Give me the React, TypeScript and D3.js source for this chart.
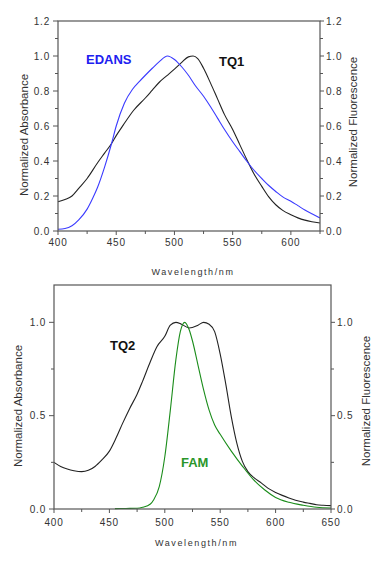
import React from "react";
import * as d3 from "d3";

// Top panel data
const tq1Wl = [400, 406, 412, 418, 425, 434, 440, 446, 450, 456, 465, 475, 481, 487, 493, 500, 506, 512, 516, 520, 525, 531, 537, 543, 550, 556, 562, 568, 575, 581, 587, 593, 600, 606, 612, 618, 625];
const tq1Val = [0.167, 0.18, 0.2, 0.245, 0.3, 0.39, 0.445, 0.5, 0.545, 0.605, 0.69, 0.76, 0.805, 0.85, 0.885, 0.925, 0.962, 0.995, 1.0, 0.985, 0.93, 0.845, 0.755, 0.665, 0.58, 0.495, 0.41, 0.33, 0.255, 0.195, 0.15, 0.118, 0.093, 0.075, 0.062, 0.053, 0.046];
const edansWl = [400, 406, 412, 418, 425, 430, 434, 440, 446, 450, 457, 464, 470, 475, 481, 487, 494, 500, 506, 512, 518, 525, 531, 537, 543, 550, 556, 562, 568, 575, 581, 587, 593, 600, 606, 612, 618, 625];
const edansVal = [0.01, 0.014, 0.03, 0.065, 0.125, 0.19, 0.25, 0.365, 0.5, 0.6, 0.73, 0.81, 0.855, 0.89, 0.93, 0.968, 1.0, 0.98, 0.94, 0.89, 0.83, 0.77, 0.71, 0.645, 0.58, 0.51, 0.455, 0.4, 0.35, 0.3, 0.26, 0.226, 0.195, 0.17, 0.145, 0.12, 0.098, 0.074];

// Bottom panel data
const tq2Wl = [400, 406, 412, 418, 425, 431, 437, 443, 450, 456, 462, 468, 475, 480, 487, 493, 500, 505, 510, 515, 522, 530, 535, 540, 545, 550, 555, 560, 565, 570, 575, 581, 587, 593, 600, 606, 612, 618, 625, 631, 637, 643, 650];
const tq2Val = [0.25, 0.228, 0.214, 0.205, 0.2, 0.207, 0.228, 0.262, 0.31, 0.38, 0.46, 0.535, 0.615, 0.685, 0.79, 0.87, 0.925, 0.985, 1.0, 0.99, 0.97, 0.985, 1.0, 0.99, 0.95, 0.83, 0.67, 0.495, 0.353, 0.255, 0.2, 0.165, 0.14, 0.112, 0.089, 0.073, 0.059, 0.047, 0.037, 0.03, 0.023, 0.02, 0.018];
const famWl = [455, 465, 475, 480, 487, 490, 495, 500, 505, 510, 514, 518, 522, 525, 530, 535, 540, 545, 550, 560, 570, 580, 590, 600, 612, 625, 637, 650];
const famVal = [0.002, 0.003, 0.004, 0.009, 0.027, 0.05, 0.12, 0.28, 0.53, 0.8, 0.95, 1.0, 0.96, 0.9, 0.77, 0.64, 0.53, 0.45, 0.4, 0.31, 0.23, 0.157, 0.103, 0.062, 0.036, 0.02, 0.009, 0.005];

const topXTicks = [400, 425, 450, 475, 500, 525, 550, 575, 600, 625];
const topXLabels = [400, 450, 500, 550, 600];
const topYTicks = [0, 0.1, 0.2, 0.3, 0.4, 0.5, 0.6, 0.7, 0.8, 0.9, 1.0, 1.1, 1.2];
const topYLabels = ["0.0", "0.2", "0.4", "0.6", "0.8", "1.0", "1.2"];
const botXTicks = [400, 425, 450, 475, 500, 525, 550, 575, 600, 625, 650];
const botXLabels = [400, 450, 500, 550, 600, 650];
const botYTicks = [0, 0.25, 0.5, 0.75, 1.0];
const botYLabels = ["0.0", "0.5", "1.0"];

const AXIS = "#555";
const TXT = "#333";
const FONT = "'Liberation Sans', Arial, sans-serif";

type Series = { wl: number[]; val: number[]; color: string };
type Lab = { text: string; x: number; y: number; color: string };

function Panel(props: {
  left: number; right: number; top: number; bottom: number;
  xDomain: [number, number];
  xTicks: number[]; xLabels: number[];
  yTicks: number[]; yLabels: string[];
  series: Series[]; labels: Lab[];
  leftTitleX: number; leftTitleY: number; rightTitleX: number; rightTitleY: number;
  xTitleY: number; labelGap: number;
}) {
  const x = d3.scaleLinear().domain(props.xDomain).range([props.left, props.right]);
  const y = d3.scaleLinear().domain([0, 1.2]).range([props.bottom, props.top]);
  const line = d3.line<[number, number]>().x(d => x(d[0])).y(d => y(d[1])).curve(d3.curveMonotoneX);
  const labVals = props.yLabels.map(s => parseFloat(s));
  const isMajorY = (v: number) => labVals.some(l => Math.abs(l - v) < 1e-6);
  const isMajorX = (v: number) => props.xLabels.includes(v);
  return (
    <g>
      {props.series.map((s, i) => (
        <path key={i} d={line(s.wl.map((w, j) => [w, s.val[j]] as [number, number])) || ""}
          fill="none" stroke={s.color} strokeWidth={1.1} />
      ))}
      <rect x={props.left} y={props.top} width={props.right - props.left} height={props.bottom - props.top}
        fill="none" stroke={AXIS} strokeWidth={1.2} />
      {props.xTicks.map(t => (
        <line key={"xt" + t} x1={x(t)} x2={x(t)} y1={props.bottom} y2={props.bottom + (isMajorX(t) ? 4 : 3)} stroke={AXIS} />
      ))}
      {props.xLabels.map(t => (
        <text key={"xl" + t} x={x(t)} y={props.bottom + props.labelGap} textAnchor="middle" fontSize={10}
          fontFamily={FONT} fill={TXT} letterSpacing={0.8}>{t}</text>
      ))}
      {props.yTicks.map(t => (
        <g key={"yt" + t}>
          <line x1={props.left - (isMajorY(t) ? 5 : 3)} x2={props.left} y1={y(t)} y2={y(t)} stroke={AXIS} />
          <line x1={props.right} x2={props.right + (isMajorY(t) ? 4 : 3)} y1={y(t)} y2={y(t)} stroke={AXIS} />
        </g>
      ))}
      {props.yLabels.map(s => (
        <g key={"yl" + s}>
          <text x={props.left - 8} y={y(parseFloat(s)) + 3.5} textAnchor="end" fontSize={10}
            fontFamily={FONT} fill={TXT} letterSpacing={0.8}>{s}</text>
          <text x={props.right + 6} y={y(parseFloat(s)) + 3.5} textAnchor="start" fontSize={10}
            fontFamily={FONT} fill={TXT} letterSpacing={0.8}>{s}</text>
        </g>
      ))}
      <text transform={`translate(${props.leftTitleX},${props.leftTitleY}) rotate(-90)`} textAnchor="middle"
        fontSize={11.5} fontFamily={FONT} fill={TXT}>Normalized Absorbance</text>
      <text transform={`translate(${props.rightTitleX},${props.rightTitleY}) rotate(-90)`} textAnchor="middle"
        fontSize={11.5} fontFamily={FONT} fill={TXT}>Normalized Fluorescence</text>
      <text x={(props.left + props.right) / 2 + 4} y={props.xTitleY} textAnchor="middle" fontSize={9}
        fontFamily={FONT} fill={TXT} letterSpacing={1.6}>Wavelength/nm</text>
      {props.labels.map(l => (
        <text key={l.text} x={l.x} y={l.y} fontSize={13} fontWeight="bold" fontFamily={FONT} fill={l.color}>{l.text}</text>
      ))}
    </g>
  );
}

export default function App() {
  return (
    <svg width={391} height={565} style={{ position: "absolute", left: 0, top: 0, background: "#fff" }}>
      <rect width={391} height={565} fill="#fff" />
      <Panel left={58} right={320} top={21} bottom={231} xDomain={[400, 625]}
        xTicks={topXTicks} xLabels={topXLabels} yTicks={topYTicks} yLabels={topYLabels}
        series={[{ wl: tq1Wl, val: tq1Val, color: "#222" }, { wl: edansWl, val: edansVal, color: "#3a3aff" }]}
        labels={[{ text: "EDANS", x: 86, y: 64, color: "#2020f0" }, { text: "TQ1", x: 219, y: 66, color: "#111" }]}
        leftTitleX={28} leftTitleY={135} rightTitleX={357} rightTitleY={122} xTitleY={275} labelGap={15} />
      <Panel left={54} right={331} top={285} bottom={509} xDomain={[400, 650]}
        xTicks={botXTicks} xLabels={botXLabels} yTicks={botYTicks} yLabels={botYLabels}
        series={[{ wl: tq2Wl, val: tq2Val, color: "#222" }, { wl: famWl, val: famVal, color: "#1a8c1a" }]}
        labels={[{ text: "TQ2", x: 110, y: 350, color: "#111" }, { text: "FAM", x: 181, y: 467, color: "#2a962a" }]}
        leftTitleX={22} leftTitleY={406} rightTitleX={370} rightTitleY={401} xTitleY={546} labelGap={17} />
    </svg>
  );
}
